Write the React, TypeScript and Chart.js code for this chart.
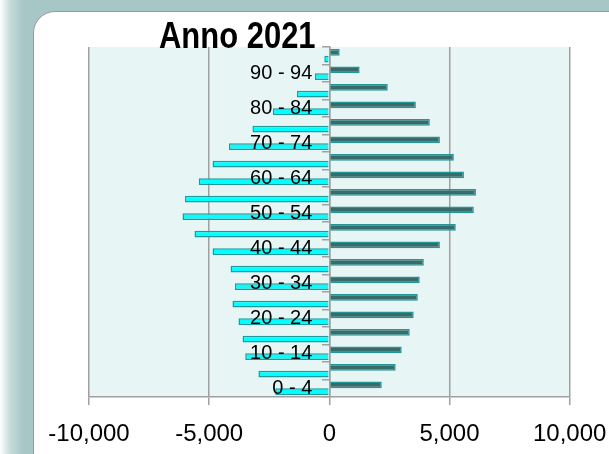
import React, { useEffect, useRef } from "react";
import { Chart, registerables } from "chart.js";

Chart.register(...registerables);

const ageGroups = [
  "0 - 4", "5 - 9", "10 - 14", "15 - 19", "20 - 24", "25 - 29", "30 - 34",
  "35 - 39", "40 - 44", "45 - 49", "50 - 54", "55 - 59", "60 - 64", "65 - 69",
  "70 - 74", "75 - 79", "80 - 84", "85 - 89", "90 - 94", "95 - 99",
];

const femmine = [
  2180, 2760, 3010, 3345, 3510, 3680, 3760, 3930, 4600, 5260,
  6010, 6100, 5600, 5180, 4600, 4180, 3600, 2430, 1260, 430,
];

const maschi = [
  -2250, -2950, -3500, -3610, -3780, -4030, -3930, -4110, -4860, -5610,
  -6110, -6010, -5430, -4860, -4180, -3200, -2350, -1350, -600, -210,
];

const xTicks = [-10000, -5000, 0, 5000, 10000];

const FONT = "'Liberation Sans', Arial, sans-serif";

const plotBg = {
  id: "plotBg",
  beforeDraw(chart: any) {
    const { ctx, chartArea } = chart;
    ctx.save();
    ctx.fillStyle = "#e8f5f5";
    ctx.fillRect(chartArea.left, chartArea.top, chartArea.right - chartArea.left, chartArea.bottom - chartArea.top);
    ctx.restore();
  },
};

export default function App() {
  const ref = useRef<HTMLCanvasElement>(null);

  useEffect(() => {
    document.body.style.margin = "0";
    const chart = new Chart(ref.current as HTMLCanvasElement, {
      type: "bar",
      data: {
        labels: ageGroups,
        datasets: [
          {
            label: "Femmine",
            data: femmine,
            backgroundColor: "#3a6b6b",
            borderColor: "#239696",
            borderWidth: 1.5,
            categoryPercentage: 0.76,
            barPercentage: 1,
          },
          {
            label: "Maschi",
            data: maschi,
            backgroundColor: "#00ffff",
            borderColor: "#1e9a9a",
            borderWidth: 1.5,
            categoryPercentage: 0.76,
            barPercentage: 1,
          },
        ],
      },
      options: {
        indexAxis: "y",
        animation: false,
        responsive: false,
        maintainAspectRatio: false,
        layout: { padding: { left: 89, right: 40, top: 47, bottom: 0 } },
        plugins: {
          legend: { display: false },
          title: { display: false },
          tooltip: { enabled: false },
        },
        scales: {
          x: {
            type: "linear",
            min: -10000,
            max: 10000,
            afterBuildTicks: (axis: any) => {
              axis.ticks = xTicks.map((v) => ({ value: v }));
            },
            ticks: {
              color: "#000",
              font: { family: FONT, size: 24 },
              padding: 14.6,
              callback: (v: any) => Number(v).toLocaleString("en-US"),
            },
            grid: {
              color: "#a0a0a0",
              lineWidth: 1.5,
              tickLength: 8,
            },
            border: { color: "#a0a0a0", width: 1.5 },
          },
          y: {
            type: "category",
            reverse: true,
            position: "center",
            ticks: {
              z: 1,
              color: "#000",
              font: { family: FONT, size: 20 },
              autoSkip: false,
              padding: 0,
              callback: function (this: any, _v: any, i: number) {
                return i % 2 === 0 ? ageGroups[i] + "\u2002" : "";
              },
            },
            grid: {
              drawOnChartArea: false,
              color: "#a0a0a0",
              lineWidth: 1.5,
              tickLength: 7,
            },
            border: { color: "#a0a0a0", width: 1.5, z: 1 },
          },
        },
      } as any,
      plugins: [plotBg],
    });
    return () => chart.destroy();
  }, []);

  return (
    <div
      style={{
        position: "fixed",
        left: 0,
        top: 0,
        width: 609,
        height: 454,
        overflow: "hidden",
        background: "linear-gradient(to right, #ffffff 0px, #c6dcdc 10px, #a7c6c6 24px)",
      }}
    >
      <div
        style={{
          position: "absolute",
          left: 33,
          top: 11,
          width: 610,
          height: 470,
          background: "#ffffff",
          border: "1.5px solid #9a9a9a",
          borderRadius: 22,
          boxSizing: "border-box",
        }}
      />
      <canvas
        ref={ref}
        width={621}
        height={463}
        style={{ position: "absolute", left: 0, top: 0, width: 621, height: 463 }}
      />
      <div
        style={{
          position: "absolute",
          left: 159,
          top: 14,
          fontFamily: FONT,
          fontWeight: "bold",
          fontSize: 36,
          color: "#000",
          lineHeight: "44px",
          whiteSpace: "nowrap",
          transform: "scaleX(0.86)",
          transformOrigin: "left top",
        }}
      >
        Anno 2021
      </div>
    </div>
  );
}
